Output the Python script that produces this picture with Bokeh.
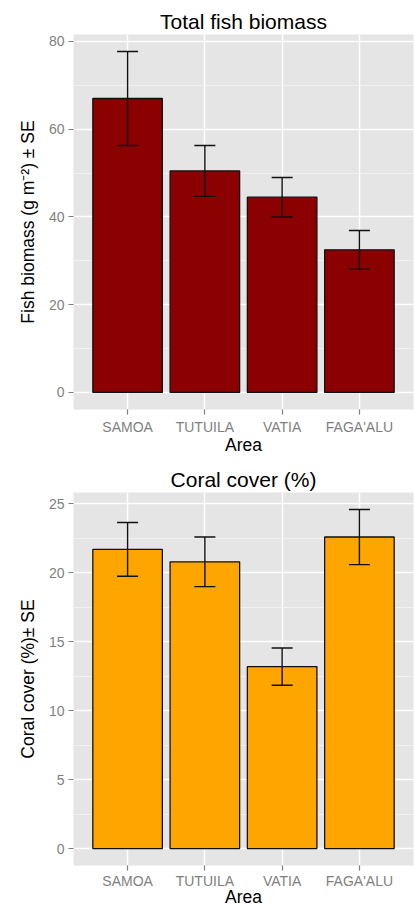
from bokeh.plotting import figure
from bokeh.layouts import column
from bokeh.models import (Range1d, FactorRange, SingleIntervalTicker, Whisker,
                          TeeHead, ColumnDataSource)
from bokeh.embed import file_html
from bokeh.resources import INLINE

# ---- data ----
areas = ["SAMOA", "TUTUILA", "VATIA", "FAGA'ALU"]
fish_mean = [67.0, 50.5, 44.5, 32.5]
fish_se = [10.7, 5.8, 4.5, 4.4]
coral_mean = [21.7, 20.8, 13.2, 22.6]
coral_se = [1.95, 1.8, 1.35, 2.0]

FONT = "Liberation Sans"
GREY = "#7F7F7F"


def panel(title, ylabel, means, ses, fill, interval, W, H, left, top, bottom,
          tick_standoff, xlabel_standoff):
    lower = [m - s for m, s in zip(means, ses)]
    upper = [m + s for m, s in zip(means, ses)]
    lo = min(0.0, min(lower))
    hi = max(upper)
    pad = 0.05 * (hi - lo)
    ymin, ymax = lo - pad, hi + pad

    src = ColumnDataSource(dict(area=areas, mean=means, lower=lower, upper=upper))
    p = figure(width=W, height=H, output_backend="svg", toolbar_location=None,
               x_range=FactorRange(*areas, range_padding=0.2,
                                   range_padding_units="absolute"),
               y_range=Range1d(ymin, ymax),
               min_border_left=left, min_border_right=1,
               min_border_top=top, min_border_bottom=bottom)
    p.background_fill_color = "#E5E5E5"
    p.border_fill_color = "white"
    p.outline_line_color = None

    p.title.text = title
    p.title.align = "center"
    p.title.text_font = FONT
    p.title.text_font_size = "21px"
    p.title.text_font_style = "normal"
    p.title.text_color = "black"
    p.title.standoff = 4

    p.vbar(x="area", top="mean", bottom=0, width=0.9, source=src,
           fill_color=fill, line_color="#111111", line_width=1.3)
    w = Whisker(source=src, base="area", upper="upper", lower="lower",
                line_color="#111111", line_width=1.4, level="overlay",
                upper_head=TeeHead(size=21, line_width=1.4, line_color="#111111"),
                lower_head=TeeHead(size=21, line_width=1.4, line_color="#111111"))
    p.add_layout(w)

    p.yaxis.ticker = SingleIntervalTicker(interval=interval, num_minor_ticks=2)
    for ax in (p.xaxis[0], p.yaxis[0]):
        ax.axis_line_color = None
        ax.major_tick_line_color = GREY
        ax.major_tick_line_width = 1.2
        ax.major_tick_in = 0
        ax.major_tick_out = 5
        ax.minor_tick_line_color = None
        ax.major_label_text_color = GREY
        ax.major_label_text_font = FONT
        ax.major_label_text_font_size = "14px"
        ax.major_label_standoff = 4
        ax.axis_label_text_font = FONT
        ax.axis_label_text_font_size = "17.5px"
        ax.axis_label_text_font_style = "normal"
        ax.axis_label_text_color = "black"
    p.xaxis.major_label_standoff = tick_standoff
    p.yaxis.axis_label = ylabel
    p.yaxis.axis_label_standoff = 8
    p.xaxis.axis_label = "Area"
    p.xaxis.axis_label_standoff = xlabel_standoff

    p.xgrid.grid_line_color = "white"
    p.xgrid.grid_line_width = 1.5
    p.ygrid.grid_line_color = "white"
    p.ygrid.grid_line_width = 1.5
    p.ygrid.minor_grid_line_color = "#F2F2F2"
    p.ygrid.minor_grid_line_width = 0.9
    return p


p1 = panel("Total fish biomass", "Fish biomass (g m\u207b\u00b2) \u00b1 SE",
           fish_mean, fish_se, "#8B0000", 20,
           414, 457, 73, 34, 48, 4, -3)
p2 = panel("Coral cover (%)", "Coral cover (%)\u00b1 SE",
           coral_mean, coral_se, "#FFA500", 5,
           414, 452, 68, 35, 44, 2, -5)

layout = column(p1, p2, spacing=0)
open("out.html", "w").write(file_html(layout, INLINE))
